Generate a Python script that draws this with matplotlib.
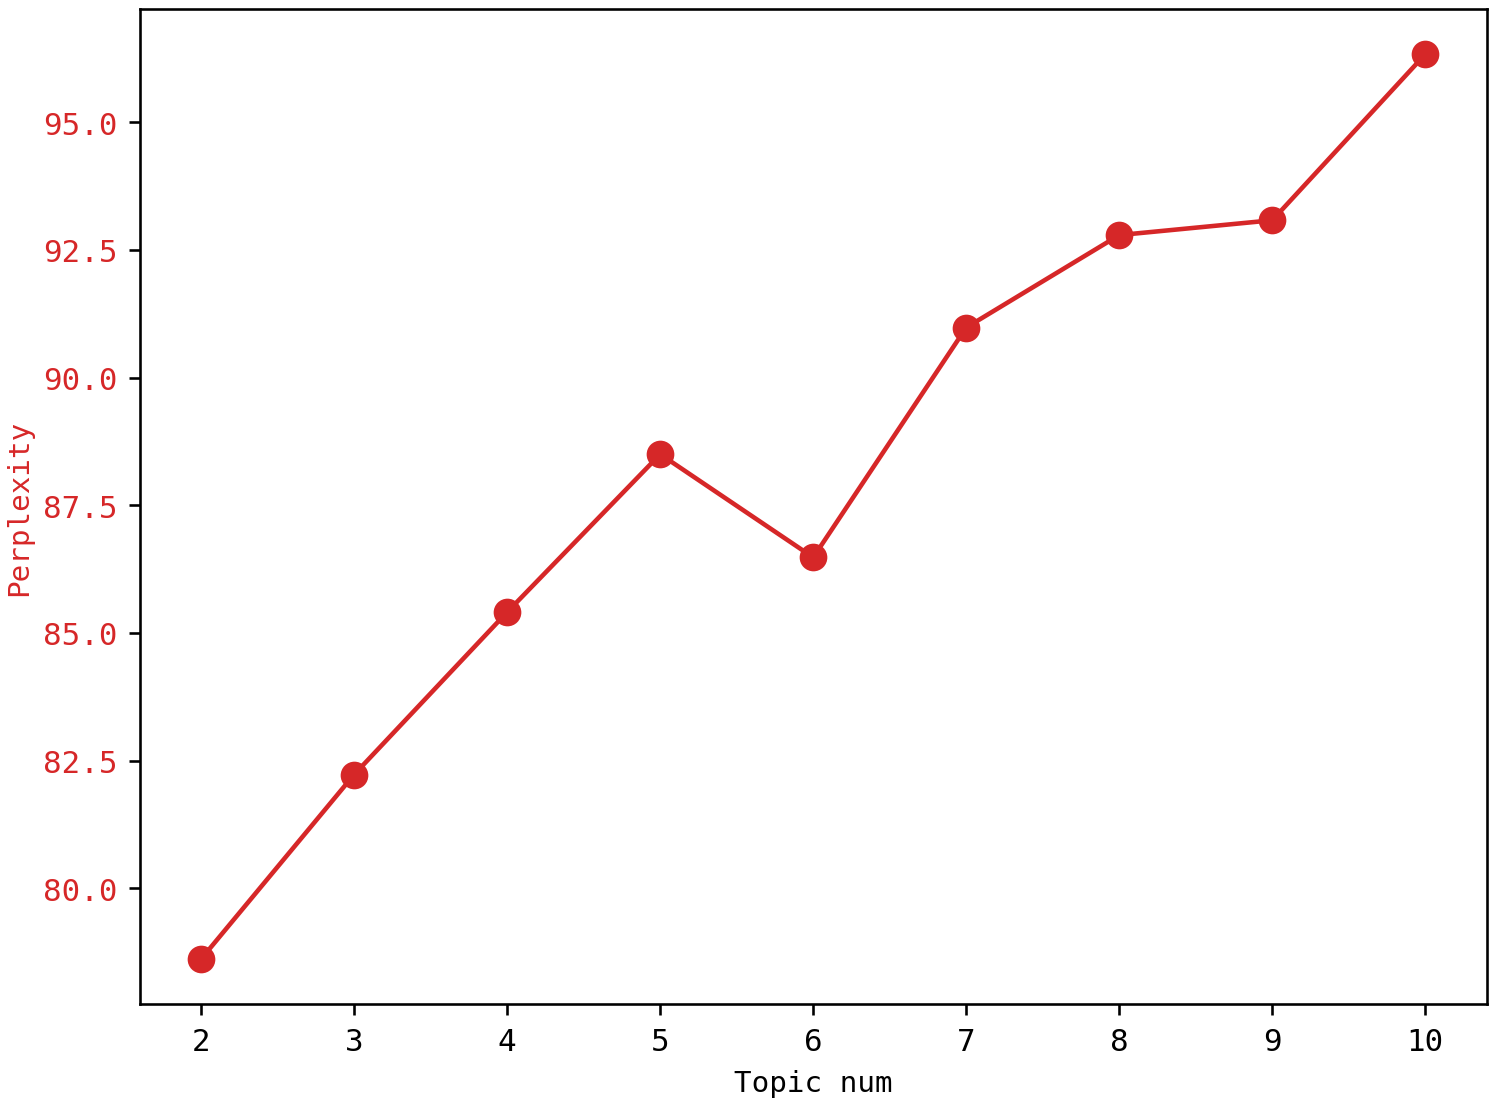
import matplotlib
matplotlib.use("Agg")
import matplotlib.pyplot as plt

# Perplexity por número de tópicos
topic_num = [2, 3, 4, 5, 6, 7, 8, 9, 10]
perplexity = [78.62, 82.23, 85.41, 88.50, 86.48, 90.98, 92.79, 93.08, 96.33]
yticks = [80.0, 82.5, 85.0, 87.5, 90.0, 92.5, 95.0]

color = "#d62728"
plt.rcParams['font.family'] = ['DejaVu Sans Mono', 'Noto Sans CJK SC']

fig = plt.figure(figsize=(6.4, 4.723), dpi=234.375)
ax = fig.add_axes([0.0933, 0.092, 0.8977, 0.899])

ax.plot(topic_num, perplexity, '-o', color=color, linewidth=1.4, markersize=7.5)
ax.set_xticks(topic_num)
ax.set_yticks(yticks)
ax.set_yticklabels([f"{v:.1f}" for v in yticks])
ax.tick_params(axis='y', labelcolor=color, labelsize=9.5)
ax.tick_params(axis='x', labelsize=9.5)
ax.set_xlabel("Topic num", fontsize=9, labelpad=4)
ax.set_ylabel("Perplexity", fontsize=9, color=color, labelpad=3)

fig.savefig("out.png")
